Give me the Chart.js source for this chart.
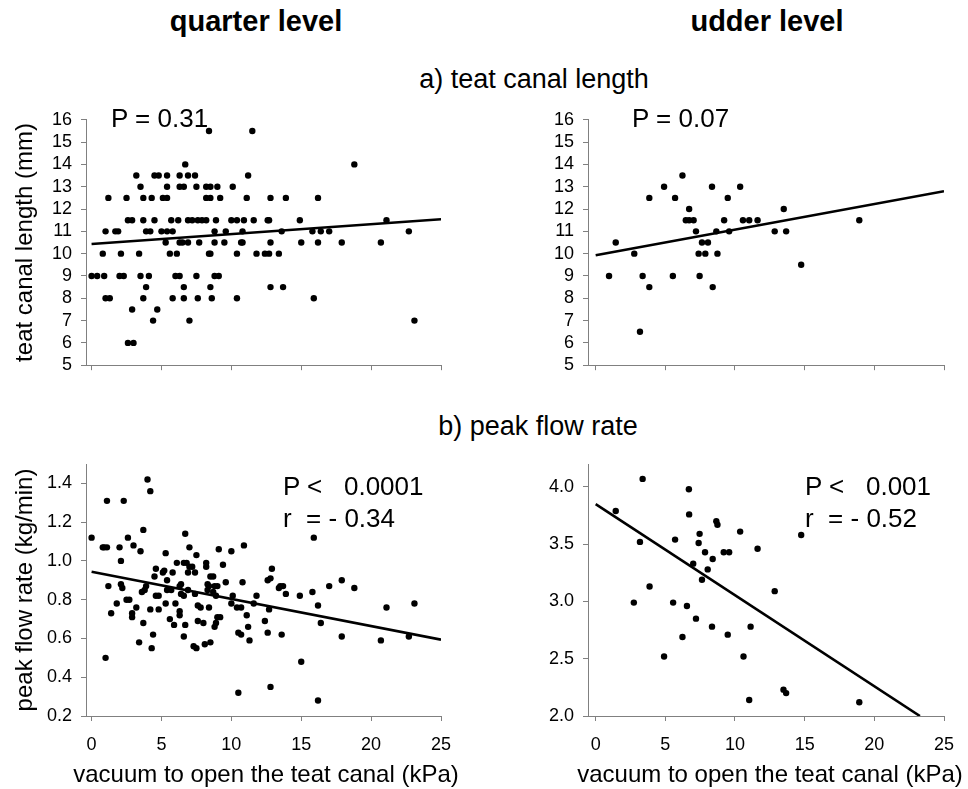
<!DOCTYPE html>
<html>
<head>
<meta charset="utf-8">
<script src="https://cdn.jsdelivr.net/npm/chart.js@4.4.1/dist/chart.umd.min.js"></script>
<style>
  html, body { margin: 0; padding: 0; background: #fff; }
  body { width: 968px; height: 789px; position: relative; overflow: hidden;
         font-family: "Liberation Sans", Arial, sans-serif; color: #000; }
  .panel { position: absolute; }
  .txt { position: absolute; white-space: pre; line-height: 1; }
  .mid { width: 600px; text-align: center; }
</style>
</head>
<body>
<div class="txt mid" style="left:-44px; top:7px; font-size:29px; font-weight:bold">quarter level</div>
<div class="txt mid" style="left:467px; top:7px; font-size:29px; font-weight:bold">udder level</div>
<div class="txt mid" style="left:234px; top:66px; font-size:27px">a) teat canal length</div>
<div class="txt mid" style="left:238px; top:413px; font-size:27px">b) peak flow rate</div>

<div class="panel" style="left:0; top:100px"><canvas id="tl" width="470" height="285"></canvas></div>
<div class="panel" style="left:484px; top:100px"><canvas id="tr" width="484" height="285"></canvas></div>
<div class="panel" style="left:0; top:440px"><canvas id="bl" width="470" height="349"></canvas></div>
<div class="panel" style="left:484px; top:440px"><canvas id="br" width="484" height="349"></canvas></div>

<div class="txt" style="left:111px; top:105px; font-size:26px">P = 0.31</div>
<div class="txt" style="left:632px; top:105px; font-size:26px">P = 0.07</div>
<div class="txt" style="left:283px; top:473px; font-size:26px">P &lt;   0.0001</div>
<div class="txt" style="left:283px; top:505px; font-size:26px">r  = - 0.34</div>
<div class="txt" style="left:805px; top:473px; font-size:26px">P &lt;   0.001</div>
<div class="txt" style="left:805px; top:505px; font-size:26px">r  = - 0.52</div>

<div class="txt mid" style="left:-34px; top:762px; font-size:24px">vacuum to open the teat canal (kPa)</div>
<div class="txt mid" style="left:470px; top:762px; font-size:24px">vacuum to open the teat canal (kPa)</div>

<script>
// tick labels
const vacuumTicks = [0, 5, 10, 15, 20, 25];
const canalTicks = [5, 6, 7, 8, 9, 10, 11, 12, 13, 14, 15, 16];
const quarterFlowTicks = [0.2, 0.4, 0.6, 0.8, 1.0, 1.2, 1.4];
const udderFlowTicks = [2.0, 2.5, 3.0, 3.5, 4.0];

// a) quarter level: vacuum (kPa) vs teat canal length (mm)
const quarterCanalX = [
  8.4, 11.5,
  6.7, 18.8,
  3.2, 4.5, 4.8, 5.4, 6.3, 6.9, 7.4, 11.2,
  3.5, 5.4, 6.3, 6.6, 7.5, 8.2, 8.5, 9.0, 10.1,
  1.2, 2.5, 3.7, 4.3, 5.1, 5.4, 8.2, 8.5, 9.2, 11.1, 12.8, 13.9, 16.2,
  2.6, 2.9, 3.7, 4.5, 5.7, 6.2, 6.9, 7.2, 7.6, 7.9, 8.2, 8.9, 10.0, 10.4, 10.9, 11.6, 12.6, 12.7, 14.9, 21.1,
  1.0, 1.7, 1.9, 3.9, 4.2, 5.0, 5.4, 5.8, 8.8, 9.6, 10.8, 13.6, 15.8, 16.4, 17.0, 22.7,
  5.3, 6.3, 6.5, 6.9, 7.7, 8.8, 9.5, 10.7, 10.8, 12.8, 15.0, 16.2, 17.9, 20.7,
  0.8, 2.1, 3.4, 5.6, 6.1, 8.4, 8.5, 10.4, 11.8, 12.4, 12.7, 13.4,
  0.0, 0.4, 0.9, 2.0, 2.3, 3.5, 4.1, 6.0, 6.3, 7.5, 8.8, 9.1,
  3.9, 6.6, 8.5, 12.8, 13.7,
  1.0, 1.3, 3.7, 5.8, 6.6, 7.6, 8.6, 10.4, 15.9,
  2.9, 4.7,
  4.4, 7.0, 23.1,
  2.6, 3.0
];
const quarterCanalY = [
  15.5, 15.5,
  14, 14,
  13.5, 13.5, 13.5, 13.5, 13.5, 13.5, 13.5, 13.5,
  13, 13, 13, 13, 13, 13, 13, 13, 13,
  12.5, 12.5, 12.5, 12.5, 12.5, 12.5, 12.5, 12.5, 12.5, 12.5, 12.5, 12.5, 12.5,
  11.5, 11.5, 11.5, 11.5, 11.5, 11.5, 11.5, 11.5, 11.5, 11.5, 11.5, 11.5, 11.5, 11.5, 11.5, 11.5, 11.5, 11.5, 11.5, 11.5,
  11, 11, 11, 11, 11, 11, 11, 11, 11, 11, 11, 11, 11, 11, 11, 11,
  10.5, 10.5, 10.5, 10.5, 10.5, 10.5, 10.5, 10.5, 10.5, 10.5, 10.5, 10.5, 10.5, 10.5,
  10, 10, 10, 10, 10, 10, 10, 10, 10, 10, 10, 10,
  9, 9, 9, 9, 9, 9, 9, 9, 9, 9, 9, 9,
  8.5, 8.5, 8.5, 8.5, 8.5,
  8, 8, 8, 8, 8, 8, 8, 8, 8,
  7.5, 7.5,
  7, 7, 7,
  6, 6
];
const quarterCanalFitX = [0, 25];
const quarterCanalFitY = [10.43, 11.54];

// a) udder level
const udderCanalX = [
  0.96, 1.44, 2.77, 3.18, 3.37, 3.85, 3.85, 4.91, 5.54, 5.7, 6.23, 6.47,
  6.71, 6.71, 7.03, 7.2, 7.39, 7.46, 7.63, 7.87, 8.06, 8.35, 8.4, 8.66,
  8.74, 9.22, 9.48, 9.58, 10.37, 10.57, 11.02, 11.62, 12.85, 13.5, 13.67, 14.75, 18.92
];
const udderCanalY = [
  9, 10.5, 10, 6.5, 9, 12.5, 8.5, 13, 9, 12.5, 13.5, 11.5,
  12, 11.5, 11.5, 11, 10, 9, 10.5, 10, 10.5, 13, 8.5, 11,
  10, 11.5, 12.5, 11, 13, 11.5, 11.5, 11.5, 11, 12, 11, 9.5, 11.5
];
const udderCanalFitX = [0, 25];
const udderCanalFitY = [9.93, 12.8];

// b) quarter level: vacuum (kPa) vs peak flow rate (kg/min)
const quarterFlowX = [
  0.0, 0.8, 0.9, 1.1, 1.1, 2.3, 1.0, 1.2, 1.4, 1.8, 2.0, 2.1, 2.1, 2.2, 2.5, 2.6,
  2.7, 2.9, 2.9, 3.0, 3.2, 3.4, 3.5, 3.6, 3.7, 3.7, 3.8, 3.9, 4.0, 4.2, 4.2, 4.3,
  4.4, 4.5, 4.6, 4.6, 4.8, 4.8, 5.1, 5.2, 5.3, 5.3, 5.4, 5.4, 5.6, 5.7, 5.8, 5.9,
  6.0, 6.1, 6.3, 6.3, 6.3, 6.4, 6.4, 6.6, 6.6, 6.6, 6.7, 6.7, 6.8, 6.9, 6.9, 7.0,
  7.0, 7.2, 7.3, 7.4, 7.4, 7.5, 7.5, 7.6, 7.6, 7.8, 8.0, 8.1, 8.2, 8.2, 8.3, 8.3,
  8.4, 8.4, 8.5, 8.5, 8.7, 8.7, 8.8, 8.8, 8.9, 8.9, 9.0, 9.0, 9.1, 9.2, 9.4, 9.6,
  10.0, 10.0, 10.1, 10.4, 10.5, 10.5, 10.7, 10.7, 10.8, 10.9, 11.1, 11.2, 11.3,
  11.6, 11.8, 12.4, 12.6, 12.7, 12.6, 12.8, 12.9, 12.8, 13.4, 13.5, 13.6, 13.7, 13.9,
  14.9, 15.0, 15.8, 15.9, 16.2, 16.2, 16.4, 17.0, 17.9, 17.9, 18.8, 20.7, 21.1, 22.7, 23.1
];
const quarterFlowY = [
  1.12, 1.07, 1.07, 1.07, 1.31, 1.31, 0.50, 0.87, 0.73, 0.78, 1.07, 1.00, 0.88, 0.86, 0.80, 1.12,
  0.80, 0.73, 0.71, 1.08, 0.76, 0.58, 1.05, 0.84, 1.16, 0.68, 0.85, 0.87, 1.42, 1.36, 0.75, 0.55,
  0.62, 0.92, 0.96, 0.82, 0.82, 0.75, 0.94, 0.95, 1.04, 0.78, 0.85, 0.90, 0.70, 0.85, 0.94, 0.67,
  0.78, 0.99, 0.87, 0.74, 0.72, 0.88, 0.83, 0.82, 0.61, 0.99, 1.14, 0.67, 0.99, 0.94, 0.85, 1.07,
  0.97, 0.97, 0.56, 0.83, 0.94, 1.03, 0.55, 0.69, 0.77, 0.76, 0.68, 0.57, 0.99, 0.97, 0.88, 0.85,
  0.87, 0.76, 0.58, 0.92, 0.84, 0.92, 0.87, 0.66, 0.82, 0.68, 0.87, 0.71, 1.06, 0.71, 0.98, 0.89,
  1.05, 0.78, 0.82, 0.76, 0.63, 0.32, 0.62, 0.76, 0.89, 1.08, 0.72, 0.66, 0.59,
  0.78, 0.82, 0.69, 0.63, 0.75, 0.90, 0.91, 0.96, 0.35, 0.86, 0.87, 0.62, 0.87, 0.83,
  0.82, 0.48, 0.84, 1.12, 0.77, 0.28, 0.68, 0.87, 0.90, 0.61, 0.86, 0.59, 0.76, 0.61, 0.78
];
const quarterFlowFitX = [0, 25];
const quarterFlowFitY = [0.944, 0.594];

// b) udder level
const udderFlowX = [
  1.44, 2.74, 3.18, 3.37, 3.87, 4.91, 5.56, 5.7, 6.23, 6.55, 6.69, 6.71,
  7.0, 7.2, 7.39, 7.46, 7.63, 7.85, 8.04, 8.35, 8.4, 8.66, 8.74, 9.19,
  9.48, 9.58, 10.37, 10.61, 11.02, 11.12, 11.62, 12.85, 13.48, 13.67, 14.75, 18.92
];
const udderFlowY = [
  3.79, 2.99, 3.52, 4.07, 3.13, 2.52, 2.99, 3.54, 2.69, 2.96, 3.98, 3.76,
  3.33, 2.85, 3.51, 3.59, 3.19, 3.43, 3.28, 2.78, 3.37, 3.70, 3.67, 3.43,
  2.71, 3.43, 3.61, 2.52, 2.14, 2.78, 3.46, 3.09, 2.23, 2.20, 3.58, 2.12
];
const udderFlowFitX = [0, 23.27];
const udderFlowFitY = [3.85, 2.0];

Chart.defaults.font.family = '"Liberation Sans", Arial, sans-serif';
Chart.defaults.color = "#000";

const axisGray = "#808080";

function toPoints(xs, ys) {
  return xs.map((x, i) => ({ x: x, y: ys[i] }));
}

function makePanel(id, cfg) {
  const ctx = document.getElementById(id).getContext("2d");
  new Chart(ctx, {
    type: "scatter",
    data: {
      datasets: [
        {
          data: toPoints(cfg.xs, cfg.ys),
          backgroundColor: "#000",
          borderWidth: 0,
          pointRadius: 3.2,
        },
        {
          data: toPoints(cfg.fitX, cfg.fitY),
          showLine: true,
          borderColor: "#000",
          borderWidth: 2.6,
          pointRadius: 0,
          fill: false,
        },
      ],
    },
    options: {
      responsive: false,
      animation: false,
      events: [],
      layout: { padding: { top: cfg.padTop, right: cfg.padRight, left: 0, bottom: 0 } },
      plugins: { legend: { display: false }, tooltip: { enabled: false } },
      scales: {
        x: {
          type: "linear",
          min: cfg.xMin,
          max: 25,
          afterBuildTicks: (s) => {
            s.ticks = vacuumTicks.map((v) => ({ value: v }));
          },
          afterFit: (s) => {
            s.height = cfg.xHeight;
          },
          grid: { drawOnChartArea: false, drawTicks: true, tickLength: 5, color: axisGray },
          border: { display: true, color: axisGray, width: 1 },
          ticks: {
            display: cfg.xLabels,
            autoSkip: false,
            maxRotation: 0,
            padding: 13,
            font: { size: 18 },
          },
        },
        y: {
          type: "linear",
          min: cfg.yMin,
          max: cfg.yMax,
          afterBuildTicks: (s) => {
            s.ticks = cfg.yTicks.map((v) => ({ value: v }));
          },
          afterFit: (s) => {
            s.width = cfg.yWidth;
          },
          grid: { drawOnChartArea: false, drawTicks: true, tickLength: 5, color: axisGray },
          border: { display: true, color: axisGray, width: 1 },
          ticks: {
            autoSkip: false,
            padding: 9,
            font: { size: 18 },
            callback: (v) => (cfg.decimals ? Number(v).toFixed(cfg.decimals) : v),
          },
          title: {
            display: !!cfg.yTitle,
            text: cfg.yTitle || "",
            font: { size: 24 },
            padding: { top: 10.5, bottom: 0 },
          },
        },
      },
    },
  });
}

makePanel("tl", {
  xs: quarterCanalX, ys: quarterCanalY, fitX: quarterCanalFitX, fitY: quarterCanalFitY,
  xMin: -0.4, yMin: 5, yMax: 16, yTicks: canalTicks, decimals: 0,
  yTitle: "teat canal length (mm)", yWidth: 86, xHeight: 18, padTop: 15, padRight: 29, xLabels: false,
});
makePanel("tr", {
  xs: udderCanalX, ys: udderCanalY, fitX: udderCanalFitX, fitY: udderCanalFitY,
  xMin: -0.55, yMin: 5, yMax: 16, yTicks: canalTicks, decimals: 0,
  yTitle: "", yWidth: 104, xHeight: 18, padTop: 15, padRight: 24, xLabels: false,
});
makePanel("bl", {
  xs: quarterFlowX, ys: quarterFlowY, fitX: quarterFlowFitX, fitY: quarterFlowFitY,
  xMin: -0.4, yMin: 0.2, yMax: 1.5, yTicks: quarterFlowTicks, decimals: 1,
  yTitle: "peak flow rate (kg/min)", yWidth: 86, xHeight: 73, padTop: 24, padRight: 29, xLabels: true,
});
makePanel("br", {
  xs: udderFlowX, ys: udderFlowY, fitX: udderFlowFitX, fitY: udderFlowFitY,
  xMin: -0.55, yMin: 2.0, yMax: 4.2, yTicks: udderFlowTicks, decimals: 1,
  yTitle: "", yWidth: 104, xHeight: 73, padTop: 24, padRight: 24, xLabels: true,
});
</script>
</body>
</html>
